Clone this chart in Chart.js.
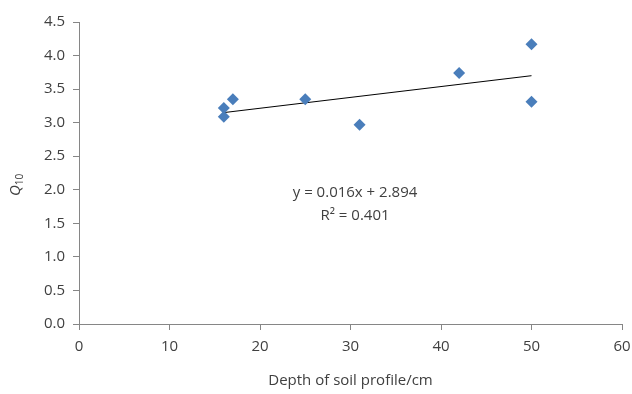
<!DOCTYPE html>
<html>
<head>
<meta charset="utf-8">
<script src="https://cdn.jsdelivr.net/npm/chart.js@4.4.0/dist/chart.umd.min.js"></script>
<style>
  html, body { margin: 0; padding: 0; background: #fff; }
  #wrap { width: 632px; height: 394px; position: relative; }
</style>
</head>
<body>
<div id="wrap"><canvas id="chart" width="632" height="394"></canvas></div>
<script>
'use strict'

// measured points (depth cm, Q10)
const depths = [16, 16, 17, 25, 31, 42, 50, 50]
const q10 = [3.09, 3.22, 3.35, 3.35, 2.97, 3.74, 4.17, 3.31]

// linear trend line ends
const trendX = [16, 50]
const trendY = [3.15, 3.70]

const equationLines = ['y = 0.016x + 2.894', 'R\u00b2 = 0.401']
const xTitle = 'Depth of soil profile/cm'

const textColor = '#404040'
const axisColor = '#868686'
const font = '"Open Sans", "Liberation Sans", sans-serif'

const overlay = {
  id: 'overlay',
  afterDraw(chart) {
    const ctx = chart.ctx
    const xs = chart.scales.x, ys = chart.scales.y
    ctx.save()
    ctx.fillStyle = textColor
    ctx.textAlign = 'center'
    ctx.textBaseline = 'middle'
    ctx.font = '15px ' + font
    const cx = xs.getPixelForValue(30.5)
    ctx.fillText(equationLines[0], cx, ys.getPixelForValue(1.96))
    ctx.fillText(equationLines[1], cx, ys.getPixelForValue(1.62))

    // y axis title Q10 with subscript, rotated
    ctx.translate(16, 185)
    ctx.rotate(-Math.PI / 2)
    ctx.textAlign = 'left'
    ctx.font = 'italic 15px ' + font
    const qw = ctx.measureText('Q').width
    ctx.font = '10px ' + font
    const sw = ctx.measureText('10').width
    const start = -(qw + sw) / 2
    ctx.font = 'italic 15px ' + font
    ctx.fillText('Q', start, 0)
    ctx.font = '10px ' + font
    ctx.fillText('10', start + qw, 4)
    ctx.restore()
  }
}

new Chart(document.getElementById('chart'), {
  type: 'scatter',
  data: {
    datasets: [
      {
        label: 'Q10',
        data: depths.map((d, i) => ({ x: d, y: q10[i] })),
        pointStyle: 'rectRot',
        pointRadius: 6,
        pointBackgroundColor: '#4a7ebb',
        pointBorderColor: '#4a7ebb',
        pointBorderWidth: 0
      },
      {
        label: 'Linear',
        type: 'line',
        data: trendX.map((d, i) => ({ x: d, y: trendY[i] })),
        borderColor: '#000',
        borderWidth: 1,
        pointRadius: 0
      }
    ]
  },
  options: {
    responsive: false,
    animation: false,
    layout: { padding: { top: 22, right: 10, left: 0, bottom: 0 } },
    plugins: { legend: { display: false }, tooltip: { enabled: false } },
    scales: {
      x: {
        type: 'linear',
        min: 0, max: 60,
        ticks: { stepSize: 10, color: textColor, font: { family: font, size: 15 }, padding: 8 },
        grid: { drawOnChartArea: false, color: axisColor, tickLength: 6 },
        border: { color: axisColor, width: 1 },
        title: { display: true, text: xTitle, color: textColor, font: { family: font, size: 15 }, padding: { top: 8 } },
        afterFit(s) { s.height = 70; s.paddingRight = 0; s.paddingLeft = 0 }
      },
      y: {
        min: 0, max: 4.5,
        ticks: { stepSize: 0.5, color: textColor, font: { family: font, size: 15 }, padding: 8,
          callback: v => v.toFixed(1) },
        grid: { drawOnChartArea: false, color: axisColor, tickLength: 6 },
        border: { color: axisColor, width: 1 },
        afterFit(s) { s.width = 79; s.paddingTop = 0; s.paddingBottom = 0 }
      }
    }
  },
  plugins: [overlay]
})
</script>
</body>
</html>
